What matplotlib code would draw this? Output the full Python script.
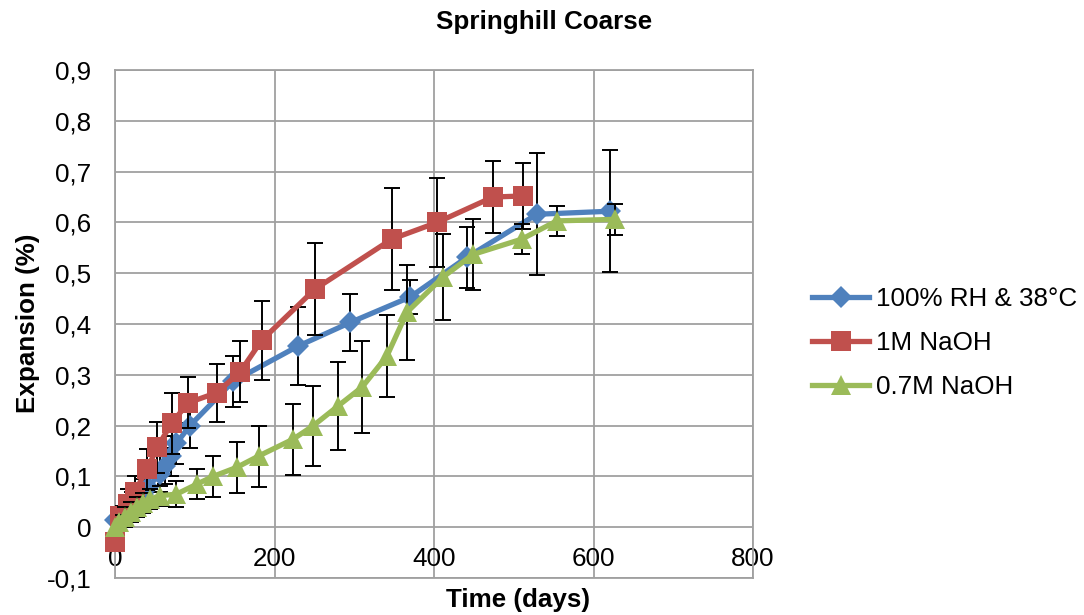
import matplotlib
matplotlib.use("Agg")
import matplotlib.pyplot as plt
from matplotlib.lines import Line2D

plt.rcParams['font.family'] = ['Liberation Sans', 'DejaVu Sans']

title = "Springhill Coarse"
xlabel = "Time (days)"
ylabel = "Expansion (%)"
series_names = ["100% RH & 38°C", "1M NaOH", "0.7M NaOH"]

x_ticks = [0, 200, 400, 600, 800]
x_tick_labels = ["0", "200", "400", "600", "800"]
y_ticks = [-0.1, 0.0, 0.1, 0.2, 0.3, 0.4, 0.5, 0.6, 0.7, 0.8, 0.9]
y_tick_labels = ["-0,1", "0", "0,1", "0,2", "0,3", "0,4", "0,5", "0,6", "0,7", "0,8", "0,9"]

# 100% RH & 38°C
blue_x = [0, 7, 14, 21, 28, 35, 42, 56, 63, 70, 77, 94, 148, 229, 295, 370, 441, 529, 621]
blue_y = [0.015, 0.02, 0.035, 0.045, 0.055, 0.065, 0.08, 0.105, 0.12, 0.14, 0.165, 0.2,
          0.287, 0.356, 0.403, 0.453, 0.531, 0.616, 0.622]
blue_err = [0.02, 0.02, 0.025, 0.025, 0.03, 0.03, 0.03, 0.035, 0.035, 0.04, 0.04, 0.045,
            0.05, 0.077, 0.057, 0.033, 0.06, 0.12, 0.12]

# 1M NaOH
red_x = [0, 6, 16, 25, 40, 53, 71, 92, 128, 157, 184, 251, 347, 404, 474, 512]
red_y = [-0.03, 0.022, 0.045, 0.07, 0.114, 0.157, 0.205, 0.245, 0.265, 0.306, 0.368,
         0.469, 0.567, 0.600, 0.650, 0.652]
red_err = [0.01, 0.02, 0.03, 0.03, 0.04, 0.05, 0.06, 0.05, 0.057, 0.06, 0.078,
           0.09, 0.10, 0.087, 0.07, 0.065]

# 0.7M NaOH
green_x = [0, 5, 12, 20, 27, 35, 44, 56, 77, 103, 123, 153, 180, 223, 248, 280, 310,
           341, 366, 411, 449, 510, 554, 627]
green_y = [0.0, 0.01, 0.02, 0.03, 0.04, 0.048, 0.055, 0.062, 0.065, 0.085, 0.1, 0.118,
           0.14, 0.173, 0.199, 0.239, 0.276, 0.337, 0.423, 0.492, 0.537, 0.567, 0.603, 0.606]
green_err = [0.015, 0.015, 0.02, 0.02, 0.02, 0.02, 0.02, 0.02, 0.025, 0.03, 0.04, 0.05,
             0.06, 0.07, 0.078, 0.087, 0.09, 0.08, 0.093, 0.085, 0.07, 0.03, 0.03, 0.03]

colors = ["#4F81BD", "#C0504D", "#9BBB59"]
markers = ["D", "s", "^"]
msizes = [11, 14, 15]
FS = 18.7

fig = plt.figure(figsize=(10.84, 6.15), dpi=100)
ax = fig.add_axes([115/1084, 1-578/615, (753-115)/1084, (578-70)/615])

ax.set_xlim(0, 800)
ax.set_ylim(-0.1, 0.9)
ax.set_xticks(x_ticks)
ax.set_xticklabels([])
ax.set_yticks(y_ticks)
ax.set_yticklabels(y_tick_labels, fontsize=FS)
ax.tick_params(axis='both', length=0)
ax.tick_params(axis='y', pad=17)
ax.grid(True, color="#A0A0A0", linewidth=1.3)
ax.set_axisbelow(True)
for s in ax.spines.values():
    s.set_color("#A0A0A0")
    s.set_linewidth(1.3)

for xt, lab in zip(x_ticks, x_tick_labels):
    ax.text(xt, -0.063, lab, ha='center', va='center', fontsize=FS, zorder=1)

data = [(blue_x, blue_y, blue_err), (red_x, red_y, red_err), (green_x, green_y, green_err)]
handles = []
for i, (xs, ys, es) in enumerate(data):
    ax.errorbar(xs, ys, yerr=es, fmt='none', ecolor='black', elinewidth=1.4,
                capsize=5.5, capthick=1.4, zorder=3 + i * 2)
    ax.plot(xs, ys, color=colors[i], linewidth=3.8, marker=markers[i],
            markersize=msizes[i], markeredgewidth=0, zorder=4 + i * 2,
            clip_on=False, solid_joinstyle='round')
    handles.append(Line2D([], [], color=colors[i], linewidth=3.8, marker=markers[i],
                          markersize=msizes[i], markeredgewidth=0))

fig.text(544/1084, 1-22/615, title, ha='center', va='center', fontsize=FS, fontweight='bold')
fig.text(518/1084, 1-600/615, xlabel, ha='center', va='center', fontsize=FS, fontweight='bold')
fig.text(28/1084, 1-323/615, ylabel, ha='center', va='center', fontsize=FS,
         fontweight='bold', rotation=90)

fig.legend(handles, series_names, loc='center left',
           bbox_to_anchor=(812/1084, 1-343/615), frameon=False, fontsize=FS,
           handlelength=2.2, handletextpad=0.25, labelspacing=0.78,
           borderpad=0, borderaxespad=0, markerscale=1.0)

fig.savefig("out.png", dpi=100)
